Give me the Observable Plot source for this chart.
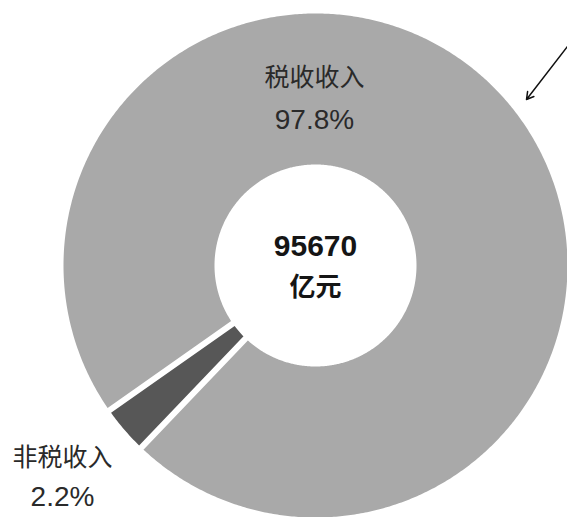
<!DOCTYPE html>
<html>
<head>
<meta charset="utf-8">
<script src="https://cdn.jsdelivr.net/npm/d3@7"></script>
<script src="https://cdn.jsdelivr.net/npm/@observablehq/plot@0.6"></script>
<style>
  html, body { margin: 0; padding: 0; background: #ffffff; }
  #chart { width: 567px; height: 517px; }
</style>
</head>
<body>
<div id="chart"></div>
<script>
// ---- data ----
const categories = ["税收收入", "非税收入"];
// slice sizes as drawn in the picture (the small wedge is drawn wider than its 2.2% label)
const sliceShares = [96.9, 3.1];
const shareLabels = ["97.8%", "2.2%"];
const sliceColors = ["#a9a9a9", "#575757"];
const totalValue = "95670";
const totalUnit = "亿元";
// label anchor positions in chart units (center = 0,0; 1 unit = 1 px)
const labelX = [-1, -253];
const labelY = [188, -192];
const pctY = [145, -232];
// pointer arrow (from outside the chart toward the ring)
const arrowLine = [{x1: 252, y1: 219, x2: 211, y2: 166}];

// ---- geometry ----
const R = 252, r = 101, gap = 6;
const startDeg = -125.1;
const pie = d3.pie().sort(null).value(d => d)
  .startAngle(startDeg * Math.PI / 180)
  .endAngle((startDeg + 360) * Math.PI / 180);
const arcs = pie(sliceShares);
const h = gap / 2;
const poly = [];
arcs.forEach((a, i) => {
  const oa0 = a.startAngle + Math.asin(h / R), oa1 = a.endAngle - Math.asin(h / R);
  const ia0 = a.startAngle + Math.asin(h / r), ia1 = a.endAngle - Math.asin(h / r);
  const n = Math.max(4, Math.ceil((oa1 - oa0) * 120));
  for (let k = 0; k <= n; k++) {
    const t = oa0 + (oa1 - oa0) * k / n;
    poly.push({cat: categories[i], x: R * Math.sin(t), y: R * Math.cos(t)});
  }
  for (let k = n; k >= 0; k--) {
    const t = ia0 + (ia1 - ia0) * k / n;
    poly.push({cat: categories[i], x: r * Math.sin(t), y: r * Math.cos(t)});
  }
});

const labels = categories.map((c, i) => ({name: c, pct: shareLabels[i], x: labelX[i], y: labelY[i], py: pctY[i]}));

const font = "'Liberation Sans', 'Noto Sans CJK SC', sans-serif";

const chart = Plot.plot({
  width: 567,
  height: 517,
  margin: 0,
  style: {background: "#ffffff", fontFamily: font},
  x: {domain: [-315, 252], axis: null},
  y: {domain: [-252, 265], axis: null},
  color: {domain: categories, range: sliceColors},
  marks: [
    Plot.line(poly, {x: "x", y: "y", z: "cat", fill: "cat", stroke: "none", curve: "linear"}),
    Plot.text(labels, {x: "x", y: "y", text: "name", fontSize: 25, fill: "#2a2a2a", fontFamily: font}),
    Plot.text(labels, {x: "x", y: "py", text: "pct", fontSize: 28, fill: "#2a2a2a", fontFamily: font}),
    Plot.text([totalValue], {x: 0, y: 19, text: d => d, fontSize: 30, fontWeight: "bold", fill: "#151515", fontFamily: font}),
    Plot.text([totalUnit], {x: 0, y: -22, text: d => d, fontSize: 26, fontWeight: "bold", fill: "#151515", fontFamily: font}),
    Plot.arrow(arrowLine, {x1: "x1", y1: "y1", x2: "x2", y2: "y2", stroke: "#111", strokeWidth: 1.5, headLength: 8})
  ]
});
document.getElementById("chart").appendChild(chart);
</script>
</body>
</html>
